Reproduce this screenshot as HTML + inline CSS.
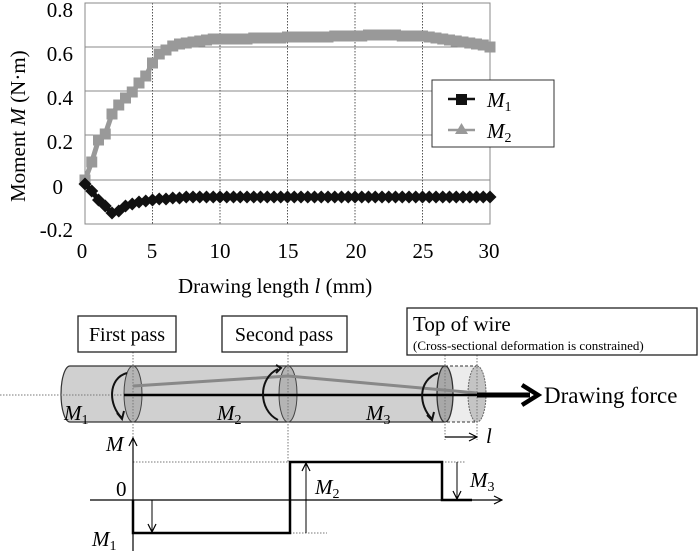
<!DOCTYPE html>
<html><head><meta charset="utf-8"><style>
html,body{margin:0;padding:0;background:#fff;}
svg{display:block;font-family:"Liberation Serif",serif;}
</style></head><body>
<svg width="700" height="551" viewBox="0 0 700 551" xmlns="http://www.w3.org/2000/svg">
<defs>
<marker id="sq" markerUnits="userSpaceOnUse" markerWidth="12" markerHeight="12" refX="6" refY="6"><rect x="0.5" y="0.5" width="11" height="11" fill="#999"/></marker>
<marker id="dm" markerUnits="userSpaceOnUse" markerWidth="14" markerHeight="14" refX="7" refY="7"><path d="M7 0.5 L13.5 7 L7 13.5 L0.5 7Z" fill="#111"/></marker>
<marker id="ah" markerUnits="userSpaceOnUse" markerWidth="10" markerHeight="10" refX="9" refY="5" orient="auto"><path d="M1 1 L9 5 L1 9" fill="none" stroke="#000" stroke-width="1.2"/></marker>
</defs>
<g stroke="#888" stroke-width="1">
<line x1="85" y1="47" x2="490" y2="47"/><line x1="85" y1="91" x2="490" y2="91"/>
<line x1="85" y1="135" x2="490" y2="135"/><line x1="85" y1="180" x2="490" y2="180"/>
</g>
<g stroke="#555" stroke-width="1" stroke-dasharray="1.5,1.5">
<line x1="152.5" y1="3" x2="152.5" y2="224"/><line x1="220" y1="3" x2="220" y2="224"/>
<line x1="287.5" y1="3" x2="287.5" y2="224"/><line x1="355" y1="3" x2="355" y2="224"/>
<line x1="422.5" y1="3" x2="422.5" y2="224"/>
</g>
<rect x="85" y="3" width="405" height="221" fill="none" stroke="#888"/>
<polyline fill="none" stroke="#999" stroke-width="5" marker-start="url(#sq)" marker-mid="url(#sq)" marker-end="url(#sq)" points="85,180 91.75,162 98.5,140 105.25,134 112,114 118.75,105 125.5,98 132.25,92 139,83 145.75,76 152.5,63 159.25,54 166,50 172.75,46 179.5,44 186.25,43 193,42 199.75,41 206.5,40 213.25,39 220,39 226.75,39 233.5,39 240.25,39 247,39 253.75,38 260.5,38 267.25,38 274,38 280.75,38 287.5,37 294.25,37 301,37 307.75,37 314.5,37 321.25,37 328,37 334.75,36 341.5,36 348.25,36 355,36 361.75,36 368.5,35 375.25,35 382,35 388.75,35 395.5,35 402.25,36 409,36 415.75,36 422.5,36 429.25,37 436,38 442.75,39 449.5,40 456.25,41 463,42 469.75,43 476.5,44 483.25,45 490,47"/>
<polyline fill="none" stroke="#111" stroke-width="5" marker-start="url(#dm)" marker-mid="url(#dm)" marker-end="url(#dm)" points="85,184 91.75,191 98.5,200 105.25,206 112,213 118.75,211 125.5,206 132.25,204 139,202 145.75,201 152.5,200 159.25,199 166,199 172.75,198 179.5,198 186.25,197 193,197 199.75,197 206.5,197 213.25,197 220,197 226.75,197 233.5,197 240.25,197 247,197 253.75,197 260.5,197 267.25,197 274,197 280.75,197 287.5,197 294.25,197 301,197 307.75,197 314.5,197 321.25,197 328,197 334.75,197 341.5,197 348.25,197 355,197 361.75,197 368.5,197 375.25,197 382,197 388.75,197 395.5,197 402.25,197 409,197 415.75,197 422.5,197 429.25,197 436,197 442.75,197 449.5,197 456.25,197 463,197 469.75,197 476.5,197 483.25,197 490,197"/>
<g font-size="21" text-anchor="end">
<text x="73" y="17">0.8</text><text x="73" y="61">0.6</text><text x="73" y="105">0.4</text>
<text x="73" y="149">0.2</text><text x="63" y="194">0</text><text x="73" y="237">-0.2</text>
</g>
<g font-size="21" text-anchor="middle">
<text x="82" y="258">0</text><text x="152" y="258">5</text><text x="220" y="258">10</text>
<text x="288" y="258">15</text><text x="356" y="258">20</text><text x="423" y="258">25</text><text x="489" y="258">30</text>
</g>
<text x="178" y="293" font-size="21">Drawing length  <tspan font-style="italic">l</tspan> (mm)</text>
<text transform="translate(25,202) rotate(-90)" font-size="21">Moment <tspan font-style="italic">M</tspan>  (N·m)</text>
<rect x="432" y="80" width="122" height="67" fill="#fff" stroke="#333"/>
<line x1="448" y1="99" x2="475" y2="99" stroke="#111" stroke-width="2.5"/>
<rect x="456" y="94" width="11" height="11" fill="#111"/>
<line x1="448" y1="130" x2="475" y2="130" stroke="#999" stroke-width="2.5"/>
<path d="M461.5 123 L468 134 L455 134Z" fill="#999"/>
<text x="487" y="107" font-size="21" font-style="italic">M<tspan font-size="14" dy="4" font-style="normal">1</tspan></text>
<text x="487" y="138" font-size="21" font-style="italic">M<tspan font-size="14" dy="4" font-style="normal">2</tspan></text>

<path d="M445 366 L70 366 A9 28 0 0 0 70 422 L445 422" fill="#d0d0d0" stroke="#333" stroke-width="1.2"/>
<rect x="445" y="366" width="32" height="56" fill="#ececec" stroke="#333" stroke-dasharray="3,2"/>
<ellipse cx="133" cy="394" rx="9" ry="28" fill="#b4b4b4" stroke="#444" stroke-width="1"/>
<ellipse cx="288" cy="394" rx="9" ry="28" fill="#b4b4b4" stroke="#444" stroke-width="1"/>
<ellipse cx="445" cy="394" rx="8" ry="28" fill="#a8a8a8" stroke="#333" stroke-width="1.3"/>
<ellipse cx="477" cy="394" rx="9" ry="28" fill="#c4c4c4" stroke="#666" stroke-width="1" stroke-dasharray="2,1"/>
<g stroke="#777" stroke-width="1" stroke-dasharray="1.5,1.5" fill="none">
<line x1="0" y1="395" x2="123" y2="395"/>
<line x1="133" y1="352" x2="133" y2="500"/>
<line x1="288" y1="352" x2="288" y2="462"/>
<line x1="445" y1="355" x2="445" y2="440"/>
<line x1="477" y1="355" x2="477" y2="440"/>
<line x1="133" y1="462" x2="290" y2="462"/>
<line x1="442" y1="462" x2="465" y2="462"/>
<line x1="290" y1="533" x2="327" y2="533"/>
</g>
<polyline points="133,386 288,376 477,393" fill="none" stroke="#888" stroke-width="3"/>
<line x1="124" y1="395" x2="477" y2="395" stroke="#000" stroke-width="2.5"/>
<line x1="477" y1="395" x2="530" y2="395" stroke="#000" stroke-width="5"/>
<path d="M522 385 L538 395 L522 405" fill="none" stroke="#000" stroke-width="4.5"/>
<text x="544" y="403" font-size="23">Drawing force</text>
<g fill="none" stroke="#111" stroke-width="2">
<path d="M127 373 C108 378 108 405 122 418"/>
<path d="M117 413 L122 419 L124 411"/>
<path d="M278 369 C258 378 258 410 278 420"/>
<path d="M276 365 L281 368 L276 373"/>
<path d="M438 373 C418 380 418 405 432 419"/>
<path d="M427 415 L432 420 L434 412"/>
</g>
<g font-size="21" font-style="italic">
<text x="64" y="420">M<tspan font-size="14" dy="4" font-style="normal">1</tspan></text>
<text x="217" y="420">M<tspan font-size="14" dy="4" font-style="normal">2</tspan></text>
<text x="366" y="420">M<tspan font-size="14" dy="4" font-style="normal">3</tspan></text>
</g>
<rect x="78" y="316" width="98" height="36" fill="#fff" stroke="#222" stroke-width="1.3"/>
<text x="127" y="341" font-size="20" text-anchor="middle">First pass</text>
<rect x="222" y="316" width="125" height="36" fill="#fff" stroke="#222" stroke-width="1.3"/>
<text x="284" y="341" font-size="20" text-anchor="middle">Second pass</text>
<rect x="407" y="308" width="290" height="47" fill="#fff" stroke="#222" stroke-width="1.3"/>
<text x="413" y="331" font-size="21">Top of wire</text>
<text x="413" y="350" font-size="13">(Cross-sectional deformation is constrained)</text>
<line x1="445" y1="437" x2="477" y2="437" stroke="#000" stroke-width="1.2" marker-end="url(#ah)"/>
<text x="486" y="443" font-size="21" font-style="italic">l</text>
<line x1="133" y1="551" x2="133" y2="438" stroke="#000" stroke-width="1.2" marker-end="url(#ah)"/>
<line x1="90" y1="500" x2="502" y2="500" stroke="#000" stroke-width="1.2" marker-end="url(#ah)"/>
<polyline points="133,500 133,533 290,533 290,462 442,462 442,500 472,500" fill="none" stroke="#000" stroke-width="2.5"/>
<line x1="152" y1="500" x2="152" y2="532" stroke="#000" stroke-width="1" marker-end="url(#ah)"/>
<line x1="306" y1="533" x2="306" y2="463" stroke="#000" stroke-width="1" marker-end="url(#ah)"/>
<line x1="457" y1="462" x2="457" y2="499" stroke="#000" stroke-width="1" marker-end="url(#ah)"/>
<text x="106" y="451" font-size="21" font-style="italic">M</text>
<text x="116" y="496" font-size="21">0</text>
<g font-size="21" font-style="italic">
<text x="92" y="546">M<tspan font-size="14" dy="4" font-style="normal">1</tspan></text>
<text x="315" y="494">M<tspan font-size="14" dy="4" font-style="normal">2</tspan></text>
<text x="470" y="487">M<tspan font-size="14" dy="4" font-style="normal">3</tspan></text>
</g>
</svg>
</body></html>
